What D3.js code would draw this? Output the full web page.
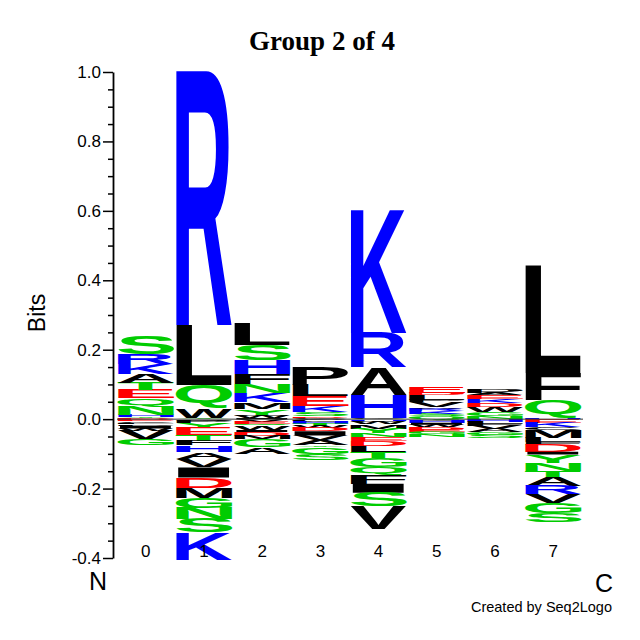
<!DOCTYPE html>
<html>
<head>
<meta charset="utf-8">
<script src="https://cdn.jsdelivr.net/npm/d3@7"></script>
<style>
  body { margin: 0; background: #fff; }
</style>
</head>
<body>
<svg id="chart" width="640" height="640"></svg>
<script>
// positions of the logo
const positions = [0, 1, 2, 3, 4, 5, 6, 7];
const yTicks = [-0.4, -0.2, 0.0, 0.2, 0.4, 0.6, 0.8, 1.0];

// positive stacks, listed from the zero line upward: [letter, bits]
const pos0 = [["D",0.003],["Y",0.003],["H",0.006],["N",0.024],["Q",0.024],["E",0.024],["T",0.021],["A",0.024],["K",0.03],["R",0.028],["S",0.054]];
const pos1 = [["Y",0.004],["W",0.026],["Q",0.068],["L",0.173],["R",0.733]];
const pos2 = [["I",0.003],["W",0.006],["C",0.004],["Y",0.016],["M",0.02],["K",0.025],["N",0.026],["F",0.03],["H",0.04],["S",0.045],["L",0.062]];
const pos3 = [["C",0.004],["D",0.005],["S",0.012],["K",0.017],["E",0.028],["L",0.032],["P",0.052]];
const pos4 = [["C",0.003],["H",0.066],["A",0.08],["R",0.1],["K",0.36]];
const pos5 = [["Q",0.008],["S",0.008],["K",0.008],["R",0.006],["A",0.005],["V",0.014],["P",0.006],["L",0.014],["D",0.006],["E",0.017]];
const pos6 = [["N",0.008],["G",0.012],["W",0.014],["D",0.012],["K",0.012],["E",0.012],["A",0.006],["P",0.012]];
const pos7 = [["H",0.003],["Q",0.052],["F",0.078],["L",0.311]];

// negative stacks, listed from the zero line downward
const neg0 = [["D",0.003],["E",0.003],["C",0.004],["L",0.004],["P",0.005],["I",0.008],["W",0.006],["V",0.024],["G",0.018]];
const neg1 = [["C",0.005],["P",0.006],["Y",0.015],["E",0.02],["T",0.017],["F",0.013],["H",0.02],["A",0.02],["V",0.023],["I",0.029],["D",0.029],["M",0.029],["G",0.029],["N",0.032],["S",0.04],["K",0.08]];
const neg2 = [["V",0.008],["E",0.006],["Q",0.005],["W",0.012],["I",0.006],["D",0.012],["M",0.009],["G",0.023],["A",0.018]];
const neg3 = [["C",0.008],["H",0.006],["T",0.006],["W",0.006],["D",0.009],["I",0.012],["V",0.014],["A",0.014],["Y",0.005],["G",0.02],["S",0.018]];
const neg4 = [["H",0.005],["C",0.004],["W",0.006],["M",0.012],["Y",0.014],["N",0.01],["E",0.012],["D",0.014],["L",0.017],["T",0.018],["G",0.025],["Q",0.025],["F",0.024],["I",0.026],["S",0.04],["V",0.065]];
const neg5 = [["C",0.004],["H",0.006],["I",0.006],["W",0.006],["D",0.008],["E",0.006],["G",0.008],["N",0.008]];
const neg6 = [["H",0.008],["L",0.006],["F",0.006],["V",0.009],["A",0.009],["G",0.008],["S",0.009]];
const neg7 = [["E",0.01],["K",0.014],["C",0.006],["M",0.023],["L",0.014],["F",0.007],["D",0.02],["I",0.008],["Y",0.023],["N",0.023],["T",0.02],["A",0.024],["R",0.024],["V",0.026],["G",0.029],["S",0.026]];

const posStacks = [pos0, pos1, pos2, pos3, pos4, pos5, pos6, pos7];
const negStacks = [neg0, neg1, neg2, neg3, neg4, neg5, neg6, neg7];

// residue colours (acidic red, basic blue, hydrophobic black, polar green)
function letterColor(ch) {
  if ("DE".includes(ch)) return "#ff0000";
  if ("KRH".includes(ch)) return "#0000ff";
  if ("GNQSTY".includes(ch)) return "#00cc00";
  return "#000000";
}

const svg = d3.select("#chart");
const font = "'Liberation Sans', Arial, Helvetica, sans-serif";

const x = d3.scaleBand().domain(positions).range([117, 582]).paddingInner(0.03).paddingOuter(0.01);
const y = d3.scaleLinear().domain([-0.4, 1.0]).range([558, 72]);

// measure ink box of each glyph so it can be stretched to fill its cell
const ctx = document.createElement("canvas").getContext("2d");
ctx.font = "bold 100px " + font;
const boxes = {};
function glyphBox(ch) {
  if (!boxes[ch]) {
    const m = ctx.measureText(ch);
    boxes[ch] = { l: m.actualBoundingBoxLeft, r: m.actualBoundingBoxRight,
                  a: m.actualBoundingBoxAscent, d: m.actualBoundingBoxDescent };
  }
  return boxes[ch];
}

const logo = svg.append("g");

function drawLetter(ch, x0, w, yTop, yBot) {
  const h = yBot - yTop;
  if (h <= 0) return;
  const b = glyphBox(ch);
  const sx = w / (b.l + b.r), sy = h / (b.a + b.d);
  logo.append("text")
    .attr("transform", `translate(${x0},${yTop}) scale(${sx},${sy}) translate(${b.l},${b.a})`)
    .attr("font-family", font)
    .attr("font-weight", "bold")
    .attr("font-size", 100)
    .attr("fill", letterColor(ch))
    .text(ch);
}

positions.forEach((p, i) => {
  const x0 = x(p), w = x.bandwidth();
  let acc = 0;
  posStacks[i].forEach(([ch, bits]) => {
    drawLetter(ch, x0, w, y(acc + bits), y(acc));
    acc += bits;
  });
  acc = 0;
  negStacks[i].forEach(([ch, bits]) => {
    drawLetter(ch, x0, w, y(acc), y(acc - bits));
    acc -= bits;
  });
});

// zero line
svg.append("line")
  .attr("x1", 117).attr("x2", 583)
  .attr("y1", y(0)).attr("y2", y(0))
  .attr("stroke", "#333").attr("stroke-width", 1);

// y axis, majors and minors
const axisX = 113;
const minorTicks = d3.range(-8, 21).map(k => k * 0.05).filter(v => Math.abs(Math.round(v * 10) - v * 10) > 0.01 || Math.round(v * 10) % 2 !== 0);

svg.append("g")
  .attr("transform", `translate(${axisX},0)`)
  .call(d3.axisLeft(y).tickValues(minorTicks).tickSize(5).tickSizeOuter(0).tickFormat(""))
  .call(g => g.select(".domain").remove())
  .call(g => g.selectAll("line").attr("stroke-width", 1.5));

const yAxisG = svg.append("g")
  .attr("transform", `translate(${axisX},0)`)
  .call(d3.axisLeft(y).tickValues(yTicks).tickSize(10).tickSizeOuter(0).tickPadding(2)
    .tickFormat(d => d.toFixed(1)));
yAxisG.select(".domain").attr("stroke-width", 1.8);
yAxisG.selectAll("line").attr("stroke-width", 1.5);
yAxisG.selectAll("text").attr("font-family", font).attr("font-size", 17).attr("fill", "#000");

// x labels
svg.append("g").selectAll("text")
  .data(positions)
  .join("text")
  .attr("x", d => x(d) + x.bandwidth() / 2)
  .attr("y", 557)
  .attr("text-anchor", "middle")
  .attr("font-family", font)
  .attr("font-size", 17)
  .text(d => d);

svg.append("text").attr("x", 98).attr("y", 590).attr("text-anchor", "middle")
  .attr("font-family", font).attr("font-size", 25).text("N");
svg.append("text").attr("x", 604).attr("y", 592).attr("text-anchor", "middle")
  .attr("font-family", font).attr("font-size", 25).text("C");

// title and labels
svg.append("text")
  .attr("x", 322).attr("y", 50)
  .attr("text-anchor", "middle")
  .attr("font-family", "'Liberation Serif', 'Times New Roman', serif")
  .attr("font-weight", "bold")
  .attr("font-size", 27)
  .text("Group 2 of 4");

svg.append("text")
  .attr("transform", "translate(45,313) rotate(-90)")
  .attr("text-anchor", "middle")
  .attr("font-family", font)
  .attr("font-size", 23)
  .text("Bits");

svg.append("text")
  .attr("x", 612).attr("y", 612)
  .attr("text-anchor", "end")
  .attr("font-family", font)
  .attr("font-size", 14.5)
  .text("Created by Seq2Logo");
</script>
</body>
</html>
